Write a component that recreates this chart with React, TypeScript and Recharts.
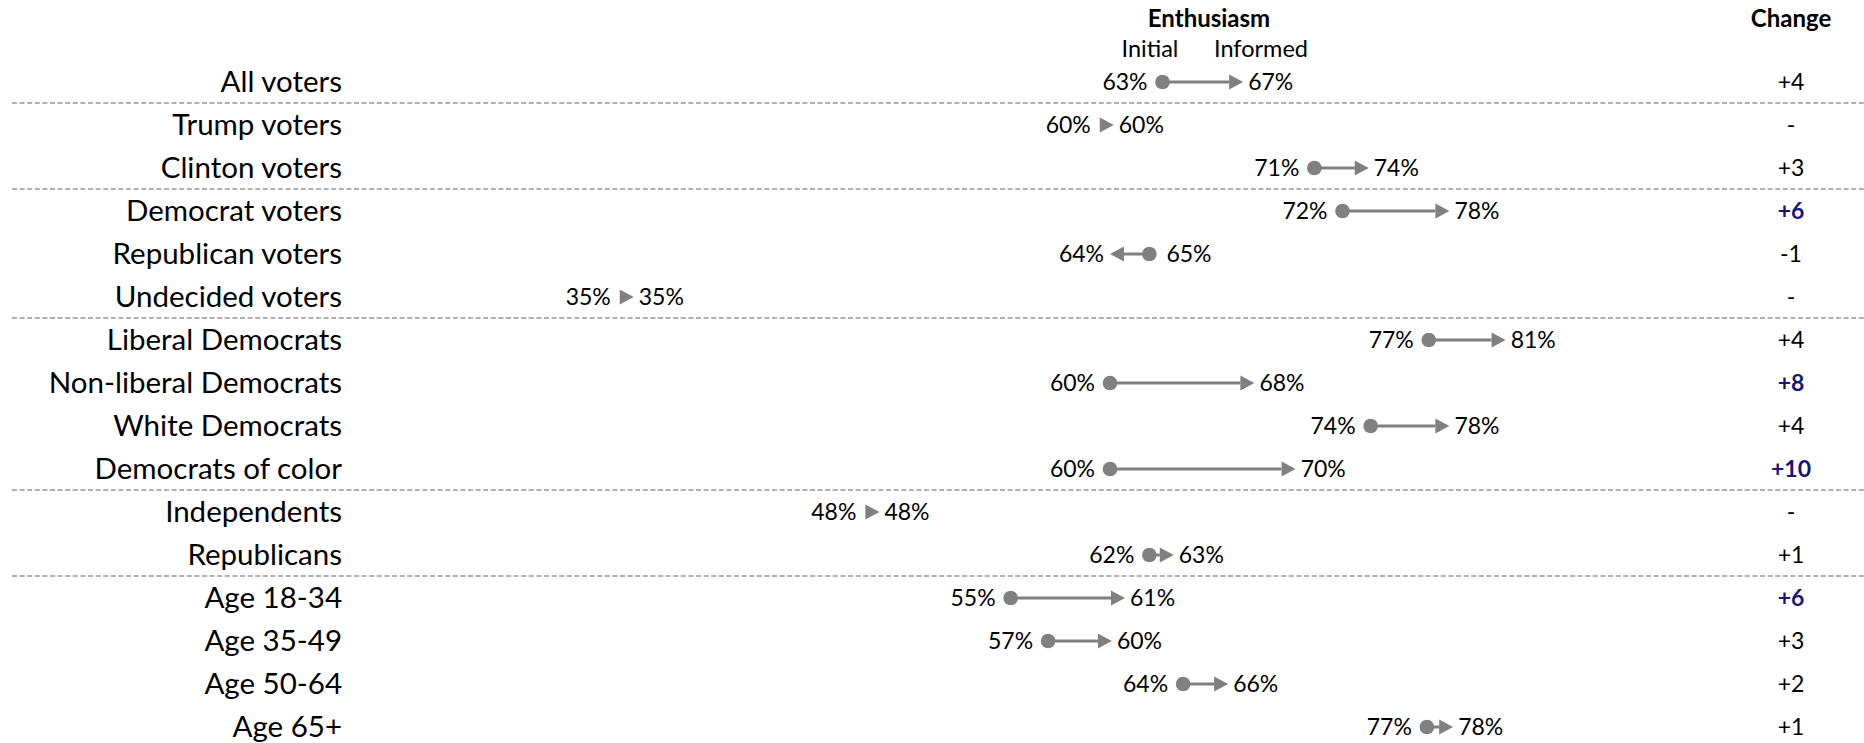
import React from "react";
import { ComposedChart, Bar, XAxis, YAxis, ReferenceLine } from "recharts";

const groups = [
  "All voters",
  "Trump voters",
  "Clinton voters",
  "Democrat voters",
  "Republican voters",
  "Undecided voters",
  "Liberal Democrats",
  "Non-liberal Democrats",
  "White Democrats",
  "Democrats of color",
  "Independents",
  "Republicans",
  "Age 18-34",
  "Age 35-49",
  "Age 50-64",
  "Age 65+",
];

// where the dot and the arrow tip sit
const initialPos = [62.8, 60.2, 70.9, 72.4, 62.1, 34.6, 77.0, 60.0, 73.9, 60.0, 47.7, 62.1, 54.7, 56.7, 63.9, 76.9];
const informedPos = [67.1, 60.2, 73.8, 78.1, 60.0, 34.6, 81.1, 67.7, 78.1, 69.9, 47.7, 63.4, 60.8, 60.1, 66.3, 78.3];

// the percentages printed next to them
const initialPct = [63, 60, 71, 72, 65, 35, 77, 60, 74, 60, 48, 62, 55, 57, 64, 77];
const informedPct = [67, 60, 74, 78, 64, 35, 81, 68, 78, 70, 48, 63, 61, 60, 66, 78];

const change = [4, 0, 3, 6, -1, 0, 4, 8, 4, 10, 0, 1, 6, 3, 2, 1];

// a dashed rule is drawn above each of these
const groupStarts = ["Trump voters", "Democrat voters", "Liberal Democrats", "Independents", "Age 18-34"];

const data = groups.map((group, i) => ({
  group,
  initial: initialPos[i],
  informed: informedPos[i],
  initialPct: initialPct[i],
  informedPct: informedPct[i],
  change: change[i],
}));

const FONT = "Lato, 'Open Sans', sans-serif";
const GREY = "#808080";
const NAVY = "#16167a";

function Dumbbell(props: any) {
  const { x, y, width, height, payload } = props;
  if (x == null || payload == null) return null;
  const cy = y + height / 2;
  const a = x;
  const b = x + width;
  const rising = payload.informed >= payload.initial;
  const x0 = rising ? Math.min(a, b) : Math.max(a, b);
  const x1 = rising ? Math.max(a, b) : Math.min(a, b);
  const flat = payload.informed === payload.initial;
  const d = rising ? 1 : -1;
  const head = 14;
  const half = 7.5;
  const lineEnd = x1 - d * head;
  const hasLine = d * (lineEnd - x0) > 0;

  const initX = flat ? x1 - head - 9 : rising ? x0 - 15 : x0 + 17;
  const infX = rising ? x1 + 5 : x1 - 6;

  return (
    <g>
      {hasLine && !flat && (
        <line x1={x0} y1={cy} x2={lineEnd} y2={cy} stroke={GREY} strokeWidth={3} />
      )}
      {!flat && <circle cx={x0} cy={cy} r={7.3} fill={GREY} />}
      <polygon
        points={`${x1},${cy} ${x1 - d * head},${cy - half} ${x1 - d * head},${cy + half}`}
        fill={GREY}
      />
      <text
        x={initX}
        y={cy + 8}
        textAnchor={rising ? "end" : "start"}
        fontSize={23}
        fontFamily={FONT}
        fill="#000"
      >
        {`${payload.initialPct}%`}
      </text>
      <text
        x={infX}
        y={cy + 8}
        textAnchor={rising ? "start" : "end"}
        fontSize={23}
        fontFamily={FONT}
        fill="#000"
      >
        {`${payload.informedPct}%`}
      </text>
    </g>
  );
}

function GroupTick(props: any) {
  const { x, y, payload } = props;
  return (
    <text x={x} y={y + 10} textAnchor="end" fontSize={29.5} fontFamily={FONT} fill="#000">
      {payload.value}
    </text>
  );
}

function ChangeTick(props: any) {
  const { x, y, payload } = props;
  const i = groups.indexOf(payload.value);
  const c = change[i];
  const text = c === 0 ? "-" : c > 0 ? `+${c}` : `${c}`;
  const strong = c >= 5;
  return (
    <text
      x={x}
      y={y + 8}
      textAnchor="middle"
      fontSize={23}
      fontFamily={FONT}
      fontWeight={strong ? 700 : 400}
      fill={strong ? NAVY : "#000"}
    >
      {text}
    </text>
  );
}

function Separator(props: any) {
  return (
    <line
      x1={12}
      x2={1864}
      y1={props.y1}
      y2={props.y2}
      stroke="#969696"
      strokeWidth={1.3}
      strokeDasharray="5 2.6"
    />
  );
}

export default function App() {
  return (
    <div
      style={{
        position: "absolute",
        left: 0,
        top: 0,
        width: 1864,
        height: 743,
        overflow: "hidden",
        background: "#fff",
      }}
    >
      <ComposedChart
        width={1864}
        height={748}
        data={data}
        layout="vertical"
        margin={{ top: 60, right: 0, bottom: 0, left: 0 }}
      >
        <XAxis type="number" domain={[20, 90]} allowDataOverflow hide />
        <YAxis
          yAxisId="left"
          type="category"
          dataKey="group"
          width={360}
          axisLine={false}
          tickLine={false}
          tickMargin={12}
          interval={0}
          tick={<GroupTick />}
        />
        <YAxis
          yAxisId="right"
          orientation="right"
          type="category"
          dataKey="group"
          width={191.5}
          axisLine={false}
          tickLine={false}
          tickMargin={112.5}
          interval={0}
          tick={<ChangeTick />}
        />
        {groupStarts.map((g) => (
          <ReferenceLine
            key={g}
            yAxisId="left"
            y={g}
            position="start"
            ifOverflow="visible"
            shape={Separator}
          />
        ))}
        <Bar
          yAxisId="left"
          dataKey={(d: any) => [d.initial, d.informed]}
          barSize={10}
          shape={Dumbbell}
          isAnimationActive={false}
        />
        <text x={1209} y={27} textAnchor="middle" fontSize={24} fontWeight={700} fontFamily={FONT}>
          Enthusiasm
        </text>
        <text x={1150} y={57} textAnchor="middle" fontSize={23.5} fontFamily={FONT}>
          Initial
        </text>
        <text x={1261} y={57} textAnchor="middle" fontSize={23.5} fontFamily={FONT}>
          Informed
        </text>
        <text x={1791} y={27} textAnchor="middle" fontSize={24} fontWeight={700} fontFamily={FONT}>
          Change
        </text>
      </ComposedChart>
    </div>
  );
}
